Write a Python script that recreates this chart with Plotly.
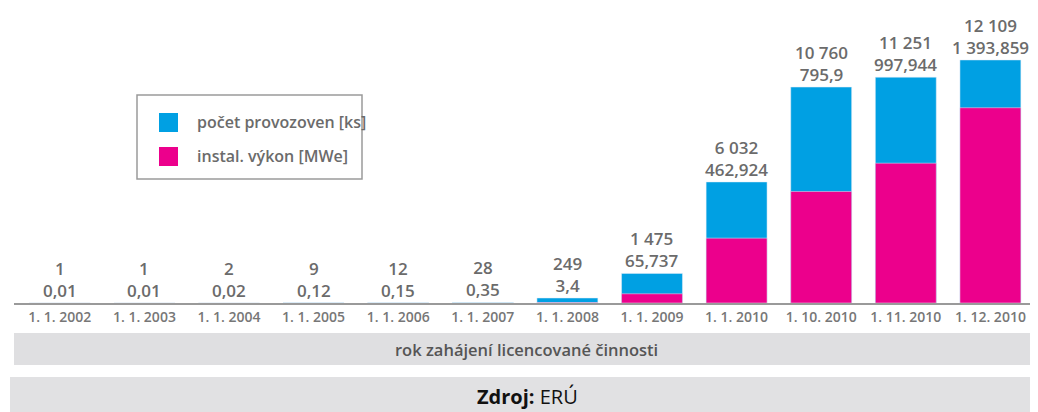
import plotly.graph_objects as go

# data
dates = ["1. 1. 2002", "1. 1. 2003", "1. 1. 2004", "1. 1. 2005", "1. 1. 2006", "1. 1. 2007",
         "1. 1. 2008", "1. 1. 2009", "1. 1. 2010", "1. 10. 2010", "1. 11. 2010", "1. 12. 2010"]
pocet = [1, 1, 2, 9, 12, 28, 249, 1475, 6032, 10760, 11251, 12109]
vykon = [0.01, 0.01, 0.02, 0.12, 0.15, 0.35, 3.4, 65.737, 462.924, 795.9, 997.944, 1393.859]

BLUE = "#00a0e3"
PINK = "#ec008c"
GREY_TXT = "#6b6b6b"
FONT = "Open Sans"

# the page has an 8px body margin, so the figure starts at (8, 8);
# only x <= 1030 is visible in the window
OFF = 8
W, H = 1030 - OFF, 412 - OFF
L, T = 14 - OFF, 0
BASE = 303  # page y of the x axis
PH = BASE - OFF - T
B = H - T - PH
PW = W - L
KS_PX = 0.02007   # px per provozovna
MW_PX = 0.1401    # px per MWe
CAT = 84.6        # px per category
FIRST = 59.8      # page x of first bar centre


def px(x):
    # page pixel -> paper coordinate
    return (x - OFF - L) / PW


def py(y):
    return (BASE - y) / PH


def cz(v):
    # czech number format: space for thousands, comma for decimals
    return f"{v:,}".replace(",", " ").replace(".", ",")


x0 = -(FIRST - OFF - L) / CAT
xrange = [x0, x0 + PW / CAT]

fig = go.Figure()
fig.add_trace(go.Bar(x=dates, y=pocet, marker_color=BLUE, width=0.72,
                     name="počet provozoven [ks]", yaxis="y"))
fig.add_trace(go.Bar(x=dates, y=vykon, marker_color=PINK, width=0.72,
                     name="instal. výkon [MWe]", yaxis="y2"))

annotations = []
for d, p, v in zip(dates, pocet, vykon):
    annotations.append(dict(x=d, y=p, xref="x", yref="y", yanchor="bottom", yshift=-1,
                            text=cz(p) + "<br>" + cz(v), showarrow=False,
                            font=dict(family=FONT, size=17, color=GREY_TXT, weight=600)))

# legend (drawn by hand)
shapes = [
    dict(type="rect", xref="paper", yref="paper", x0=px(137), x1=px(362), y0=py(179), y1=py(95),
         line=dict(color="#9a9a9a", width=1.5), fillcolor="white", layer="below"),
    dict(type="rect", xref="paper", yref="paper", x0=px(159), x1=px(178), y0=py(132), y1=py(113),
         line=dict(width=0), fillcolor=BLUE),
    dict(type="rect", xref="paper", yref="paper", x0=px(159), x1=px(178), y0=py(166), y1=py(147),
         line=dict(width=0), fillcolor=PINK),
    # grey bands under the chart
    dict(type="rect", xref="paper", yref="paper", x0=0, x1=1, y0=py(365), y1=py(333),
         line=dict(width=0), fillcolor="#dfdfe1"),
    dict(type="rect", xref="paper", yref="paper", x0=px(10), x1=1, y0=py(412), y1=py(377),
         line=dict(width=0), fillcolor="#e1e1e3"),
]
annotations += [
    dict(x=px(195), y=py(122), xref="paper", yref="paper", xanchor="left", yanchor="middle",
         text="počet provozoven [ks]", showarrow=False,
         font=dict(family=FONT, size=16, color=GREY_TXT, weight=600)),
    dict(x=px(195), y=py(156), xref="paper", yref="paper", xanchor="left", yanchor="middle",
         text="instal. výkon [MWe]", showarrow=False,
         font=dict(family=FONT, size=16, color=GREY_TXT, weight=600)),
    dict(x=px(526), y=py(349), xref="paper", yref="paper", yanchor="middle",
         text="rok zahájení licencované činnosti", showarrow=False,
         font=dict(family=FONT, size=16.5, color="#555555", weight=600)),
    dict(x=px(527), y=py(396), xref="paper", yref="paper", yanchor="middle",
         text="<b>Zdroj:</b> ERÚ", showarrow=False,
         font=dict(family=FONT, size=20, color="#111111")),
]

fig.update_layout(
    width=W, height=H,
    margin=dict(l=L, r=0, t=T, b=B),
    paper_bgcolor="white", plot_bgcolor="white",
    barmode="overlay", showlegend=False,
    xaxis=dict(range=xrange, showline=True, linecolor="#9a9a9a", linewidth=2,
               ticks="", showgrid=False, tickangle=0,
               tickfont=dict(family=FONT, size=14, color="#777777", weight=600)),
    yaxis=dict(range=[0, PH / KS_PX], visible=False, showgrid=False),
    yaxis2=dict(range=[0, PH / MW_PX], visible=False, showgrid=False, overlaying="y"),
    shapes=shapes, annotations=annotations,
)

fig.write_html("out.html")
